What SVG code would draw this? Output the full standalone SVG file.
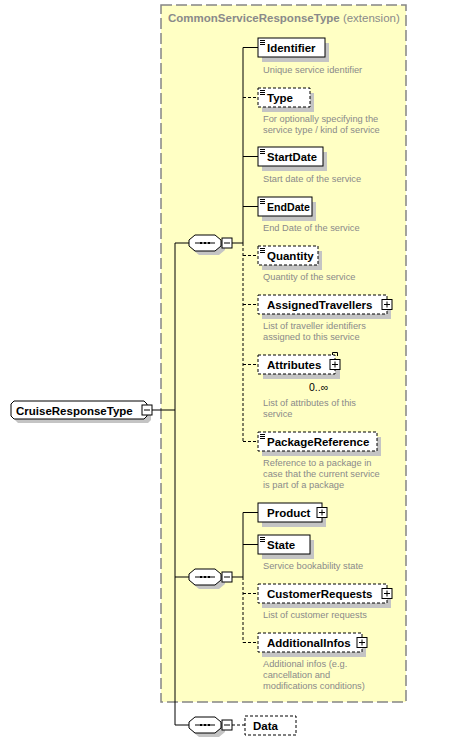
<svg xmlns="http://www.w3.org/2000/svg" width="449" height="745" viewBox="0 0 449 745">
<defs>
<style>
.ext{fill:#ffffc4;stroke:#858585;stroke-width:1.5;stroke-dasharray:11,4}
.box{fill:#fff;stroke:#000;stroke-width:1}
.opt{fill:#fff;stroke:#000;stroke-width:1;stroke-dasharray:3,2}
.sh{fill:#c4c4c4;stroke:none}
.nm{font-family:"Liberation Sans",Arial,sans-serif;font-weight:bold;font-size:11.5px;fill:#000}
.ds{font-family:"Liberation Sans",Arial,sans-serif;font-size:9.3px;fill:#8a8a8a}
.ttl{font-family:"Liberation Sans",Arial,sans-serif;font-size:11.5px;fill:#8a8a8a}
.ln{stroke:#000;stroke-width:1;fill:none}
.dl{stroke:#000;stroke-width:1;fill:none;stroke-dasharray:3,2}
.ic{stroke:#000;stroke-width:1}
.pm{fill:#fff;stroke:#000;stroke-width:1}
</style>
<g id="plus"><rect class="pm" x="0" y="0" width="10" height="10"/><path class="ln" d="M2,5H8M5,2V8"/></g>
<g id="minus"><rect class="pm" x="0" y="0" width="10" height="10"/><path class="ln" d="M2,5H8"/></g>
<g id="icon"><path class="ic" d="M2,2.5H7M2,4.5H7M2,6.5H7"/></g>
<g id="seq">
<path class="sh" d="M199,-4H219L225,1V7L219,12H199L193,7V1Z"/>
<path class="box" d="M195,-8H215L221,-3V3L215,8H195L189,3V-3Z"/>
<path class="ln" d="M195,0H215"/>
<rect x="200" y="-1" width="2" height="2" fill="#000"/>
<rect x="204" y="-1" width="2" height="2" fill="#000"/>
<rect x="208" y="-1" width="2" height="2" fill="#000"/>
<use href="#minus" x="222" y="-5"/>
</g>
</defs>

<rect class="ext" x="161" y="5" width="245" height="697"/>
<text class="ttl" x="168" y="22"><tspan font-weight="bold">CommonServiceResponseType</tspan> (extension)</text>

<g id="connectors">
<path class="ln" d="M152,410H175M175,243V725M175,243H189M175,577H189M175,725H189"/>
<path class="ln" d="M232,243H243M243,47.5V243"/>
<path class="dl" d="M243,243V441.5"/>
<path class="ln" d="M243,47.5H258M243,156.5H258M243,206.5H258"/>
<path class="dl" d="M243,97.5H258M243,255.5H258M243,304.5H258M243,364.5H258M243,441.5H258"/>
<path class="ln" d="M232,577H243M243,512.5V577"/>
<path class="dl" d="M243,577V642.5"/>
<path class="ln" d="M243,512.5H258M243,544.5H258"/>
<path class="dl" d="M243,593.5H258M243,642.5H258"/>
<path class="dl" d="M232,725H245"/>
</g>

<g id="CruiseResponseType">
<path class="sh" d="M18,405H148L151,408V420L148,423H18L15,420V408Z"/>
<path class="box" d="M14,401H144L147,404V416L144,419H14L11,416V404Z"/>
<text class="nm" x="16" y="415">CruiseResponseType</text>
<use href="#minus" x="142" y="405"/>
</g>

<g id="seq1"><use href="#seq" x="0" y="243"/></g>
<g id="seq2"><use href="#seq" x="0" y="577"/></g>
<g id="seq3"><use href="#seq" x="0" y="725"/></g>

<g id="Identifier">
<rect class="sh" x="262" y="43" width="67" height="19"/>
<rect class="box" x="258" y="38" width="67" height="19"/>
<use href="#icon" x="258" y="38"/>
<text class="nm" x="267" y="52">Identifier</text>
<text class="ds" x="263" y="73">Unique service identifier</text>
</g>

<g id="Type">
<rect class="sh" x="262" y="93" width="52" height="19"/>
<rect class="opt" x="258" y="88" width="52" height="19"/>
<use href="#icon" x="258" y="88"/>
<text class="nm" x="267" y="102">Type</text>
<text class="ds" x="263" y="122">For optionally specifying the</text>
<text class="ds" x="263" y="133">service type / kind of service</text>
</g>

<g id="StartDate">
<rect class="sh" x="262" y="152" width="65" height="19"/>
<rect class="box" x="258" y="147" width="65" height="19"/>
<use href="#icon" x="258" y="147"/>
<text class="nm" x="267" y="161" textLength="50" lengthAdjust="spacingAndGlyphs">StartDate</text>
<text class="ds" x="263" y="182">Start date of the service</text>
</g>

<g id="EndDate">
<rect class="sh" x="262" y="202" width="54" height="19"/>
<rect class="box" x="258" y="197" width="54" height="19"/>
<use href="#icon" x="258" y="197"/>
<text class="nm" x="267" y="211" textLength="43" lengthAdjust="spacingAndGlyphs">EndDate</text>
<text class="ds" x="263" y="231">End Date of the service</text>
</g>

<g id="Quantity">
<rect class="sh" x="262" y="251" width="60" height="19"/>
<rect class="opt" x="258" y="246" width="60" height="19"/>
<use href="#icon" x="258" y="246"/>
<text class="nm" x="267" y="260">Quantity</text>
<text class="ds" x="263" y="280">Quantity of the service</text>
</g>

<g id="AssignedTravellers">
<rect class="sh" x="262" y="300" width="129" height="19"/>
<rect class="opt" x="258" y="295" width="129" height="19"/>
<text class="nm" x="267" y="309">AssignedTravellers</text>
<use href="#plus" x="382" y="299.5"/>
<text class="ds" x="263" y="329">List of traveller identifiers</text>
<text class="ds" x="263" y="340">assigned to this service</text>
</g>

<g id="Attributes">
<rect class="sh" x="263" y="360" width="77" height="19"/>
<path class="ln" d="M332.5,355V352.5H337.5V356"/>
<rect class="opt" x="258" y="355" width="77" height="19"/>
<text class="nm" x="267" y="369">Attributes</text>
<use href="#plus" x="330" y="359.5"/>
<text x="309" y="391" font-family="Liberation Sans, Arial, sans-serif" font-size="10.5px" fill="#000">0..∞</text>
<text class="ds" x="263" y="406">List of attributes of this</text>
<text class="ds" x="263" y="417">service</text>
</g>

<g id="PackageReference">
<rect class="sh" x="262" y="437" width="119" height="19"/>
<rect class="opt" x="258" y="432" width="119" height="19"/>
<use href="#icon" x="258" y="432"/>
<text class="nm" x="267" y="446">PackageReference</text>
<text class="ds" x="263" y="466">Reference to a package in</text>
<text class="ds" x="263" y="477">case that the current service</text>
<text class="ds" x="263" y="488">is part of a package</text>
</g>

<g id="Product">
<rect class="sh" x="262" y="508" width="64" height="19"/>
<rect class="box" x="258" y="503" width="64" height="19"/>
<text class="nm" x="267" y="517">Product</text>
<use href="#plus" x="317" y="507.5"/>
</g>

<g id="State">
<rect class="sh" x="262" y="540" width="52" height="19"/>
<rect class="box" x="258" y="535" width="52" height="19"/>
<use href="#icon" x="258" y="535"/>
<text class="nm" x="267" y="549">State</text>
<text class="ds" x="263" y="569">Service bookability state</text>
</g>

<g id="CustomerRequests">
<rect class="sh" x="262" y="589" width="129" height="19"/>
<rect class="opt" x="258" y="584" width="129" height="19"/>
<text class="nm" x="267" y="598">CustomerRequests</text>
<use href="#plus" x="382" y="588.5"/>
<text class="ds" x="263" y="618">List of customer requests</text>
</g>

<g id="AdditionalInfos">
<rect class="sh" x="262" y="638" width="104" height="19"/>
<rect class="opt" x="258" y="633" width="104" height="19"/>
<text class="nm" x="267" y="647">AdditionalInfos</text>
<use href="#plus" x="357" y="637.5"/>
<text class="ds" x="263" y="667">Additional infos (e.g.</text>
<text class="ds" x="263" y="678">cancellation and</text>
<text class="ds" x="263" y="689">modifications conditions)</text>
</g>

<g id="Data">
<rect class="opt" x="245" y="716" width="51" height="19"/>
<text class="nm" x="253" y="730">Data</text>
</g>
</svg>
